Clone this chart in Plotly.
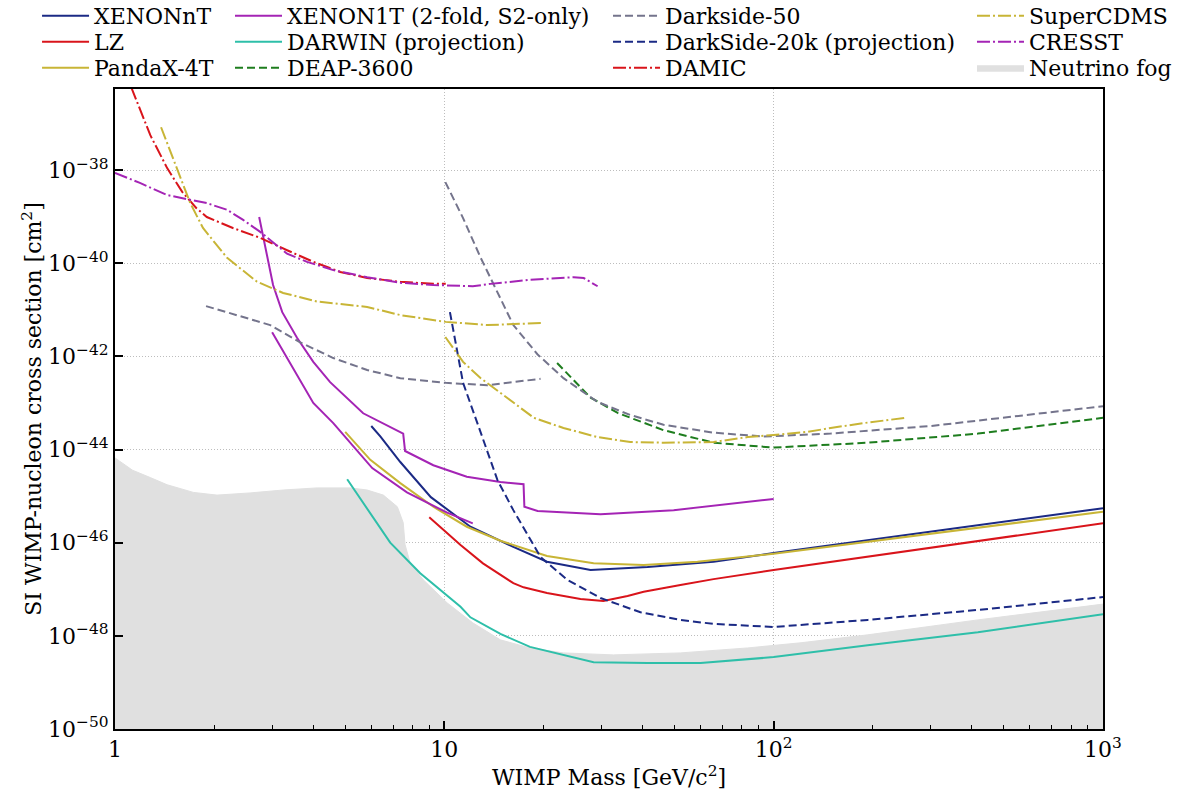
import plotly.graph_objects as go

# ---------------- data (WIMP mass in GeV/c^2, SI cross section in cm^2) ----------------
xenonnt_mass = [6.0, 6.4, 7.35, 9.1, 12.0, 16.2, 20.5, 27.8, 41.4, 65.7, 100, 1000]
xenonnt_xsec = [3.2e-44, 1.9e-44, 5.4e-45, 9.5e-46, 2.2e-46, 8.1e-47, 3.9e-47, 2.6e-47, 3.0e-47, 3.9e-47, 6.0e-47, 5.5e-46]

lz_mass = [9.0, 11.2, 13.1, 16.2, 17.4, 20.5, 25.9, 30.4, 36.0, 40.3, 52.1, 65.7, 100, 1000]
lz_xsec = [3.5e-46, 8.9e-47, 3.6e-47, 1.35e-47, 1.1e-47, 8.3e-48, 6.2e-48, 5.6e-48, 7.2e-48, 8.8e-48, 1.23e-47, 1.65e-47, 2.6e-47, 2.6e-46]

pandax_mass = [5.0, 5.96, 7.35, 9.26, 11.7, 14.8, 20.5, 28.4, 40.3, 58.7, 100, 1000]
pandax_xsec = [2.4e-44, 6.0e-45, 1.9e-45, 5.9e-46, 2.2e-46, 1.1e-46, 5.2e-47, 3.6e-47, 3.3e-47, 3.9e-47, 5.8e-47, 4.6e-46]

xenon1t_mass = [2.74, 3.02, 3.22, 3.57, 4.0, 4.5, 5.67, 7.5, 7.6, 9.26, 11.7, 14.8, 17.4, 17.5, 19.2, 29.8, 49.7, 100,
                None, 3.0, 3.65, 4.0, 4.6, 6.04, 7.7, 10.2, 12.2]
xenon1t_xsec = [9.8e-40, 3.4e-41, 8.9e-42, 2.5e-42, 7.6e-43, 2.8e-43, 6.0e-44, 2.2e-44, 9.3e-45, 4.6e-45, 2.6e-45, 2.0e-45, 1.8e-45, 5.9e-46, 4.8e-46, 4.1e-46, 5.0e-46, 8.7e-46,
                None, 3.3e-42, 3.1e-43, 1.0e-43, 3.7e-44, 4.0e-45, 1.2e-45, 4.4e-46, 2.6e-46]

darwin_mass = [5.07, 6.85, 8.45, 11.2, 12.0, 14.8, 18.2, 28.4, 41.4, 60.0, 100, 193, 417, 1000]
darwin_xsec = [2.3e-45, 1.0e-46, 2.2e-47, 4.2e-48, 2.5e-48, 1.1e-48, 5.8e-49, 2.7e-49, 2.6e-49, 2.6e-49, 3.5e-49, 6.3e-49, 1.2e-48, 2.9e-48]

deap_mass = [22.0, 27.8, 33.6, 46.3, 65.7, 100, 193, 417, 1000]
deap_xsec = [7.2e-43, 1.3e-43, 6.1e-44, 2.6e-44, 1.4e-44, 1.1e-44, 1.4e-44, 2.2e-44, 4.8e-44]

ds50_mass = [1.89, 2.96, 3.65, 4.6, 5.83, 7.35, 10.1, 13.5, 19.6,
             None, 10.07, 11.4, 12.9, 14.5, 16.2, 19.2, 23.0, 29.2, 36.7, 46.3, 65.7, 93.3, 149, 300, 1000]
ds50_xsec = [1.2e-41, 4.7e-42, 2.0e-42, 9.2e-43, 5.1e-43, 3.4e-43, 2.7e-43, 2.4e-43, 3.3e-43,
             None, 5.5e-39, 9.3e-40, 1.3e-40, 2.4e-41, 4.7e-42, 1.1e-42, 3.4e-43, 1.05e-43, 5.5e-44, 3.4e-44, 2.3e-44, 1.9e-44, 2.2e-44, 3.2e-44, 8.5e-44]

ds20k_mass = [10.4, 11.4, 12.9, 14.5, 16.2, 19.6, 23.6, 29.8, 39.4, 52.1, 65.7, 100, 193, 417, 1000]
ds20k_xsec = [8.9e-42, 2.7e-43, 2.3e-44, 2.2e-45, 5.0e-46, 4.9e-47, 1.6e-47, 6.5e-48, 3.2e-48, 2.2e-48, 1.8e-48, 1.55e-48, 2.2e-48, 3.6e-48, 6.8e-48]

damic_mass = [1.12, 1.28, 1.44, 1.60, 1.77, 1.90, 2.28, 2.76, 3.33, 4.0, 4.83, 5.83, 7.35, 9.26, 10.1]
damic_xsec = [6e-37, 5.6e-38, 1.1e-38, 3.4e-39, 1.5e-39, 9.8e-40, 5.7e-40, 3.5e-40, 1.9e-40, 1.07e-40, 6.5e-41, 4.8e-41, 4.0e-41, 3.6e-41, 3.6e-41]

cresst_mass = [1.0, 1.19, 1.44, 1.67, 1.90, 2.19, 2.45, 2.76, 3.02, 3.33, 3.83, 4.6, 5.83, 7.35, 9.26, 12.2, 13.8, 18.2, 24.7, 26.5, 29.2]
cresst_xsec = [8.7e-39, 5.3e-39, 2.9e-39, 2.3e-39, 1.95e-39, 1.4e-39, 8.5e-40, 4.7e-40, 2.8e-40, 1.6e-40, 1.07e-40, 7.1e-41, 5.0e-41, 3.8e-41, 3.4e-41, 3.2e-41, 3.6e-41, 4.4e-41, 5.0e-41, 4.8e-41, 3.2e-41]

supercdms_mass = [1.38, 1.54, 1.69, 1.85, 2.19, 2.70, 3.24, 4.11, 5.29, 5.83, 7.35, 10.1, 13.5, 19.9,
                  None, 10.07, 11.4, 12.9, 15.5, 18.7, 23.0, 29.2, 36.7, 46.3, 65.7, 83.4, 100, 127, 149, 188, 252]
supercdms_xsec = [8.3e-38, 1.1e-38, 2.0e-39, 5.7e-40, 1.3e-40, 4.0e-41, 2.3e-41, 1.5e-41, 1.26e-41, 1.15e-41, 7.7e-42, 5.5e-42, 4.7e-42, 5.2e-42,
                  None, 2.6e-42, 7.6e-43, 3.4e-43, 1.3e-43, 4.8e-44, 2.9e-44, 1.85e-44, 1.45e-44, 1.4e-44, 1.45e-44, 1.85e-44, 2.05e-44, 2.4e-44, 2.9e-44, 3.7e-44, 4.8e-44]

fog_mass = [1.0, 1.13, 1.28, 1.44, 1.73, 2.04, 2.57, 3.24, 4.11, 5.18, 5.83, 6.53, 7.2, 7.5, 7.6, 7.88, 8.63,
            10.2, 12.2, 14.8, 18.2, 23.0, 32.6, 52.1, 83.4, 121, 193, 417, 1000]
fog_xsec = [6.6e-45, 3.6e-45, 2.5e-45, 1.75e-45, 1.2e-45, 1.05e-45, 1.17e-45, 1.35e-45, 1.5e-45, 1.5e-45, 1.35e-45, 1.05e-45, 5.9e-46, 2.7e-46, 9e-47, 3.6e-47, 1.6e-47,
            5.1e-48, 1.9e-48, 8.2e-49, 5.5e-49, 4.3e-49, 3.9e-49, 4.3e-49, 5.5e-49, 7.1e-49, 1.05e-48, 2.2e-48, 4.8e-48]
fog_floor = 1e-51

x_ticks = [1, 10, 100, 1000]
x_ticktext = ["1", "10", "10<sup>2</sup>", "10<sup>3</sup>"]
y_ticks = [1e-50, 1e-48, 1e-46, 1e-44, 1e-42, 1e-40, 1e-38]
y_ticktext = ["10<sup>\u221250</sup>", "10<sup>\u221248</sup>", "10<sup>\u221246</sup>", "10<sup>\u221244</sup>",
              "10<sup>\u221242</sup>", "10<sup>\u221240</sup>", "10<sup>\u221238</sup>"]

# ---------------- styles ----------------
NAVY = "#1b2a85"
RED = "#d9141b"
OLIVE = "#c8b536"
PURPLE = "#a424b5"
TEAL = "#2ebfa9"
GREEN = "#1e7d1e"
GREY = "#74748c"
FOG = "#e0e0e0"
DASH = "8px,4px"
DASHDOT = "13px,3px,2px,3px"
FONT = "DejaVu Serif"
FS = 22

# legend grid: columns (paper x) and rows (paper y)
COL_X = [-0.0789, 0.1164, 0.4990, 0.8674]
ROW_Y = [1.1141, 1.0734, 1.0328]

fig = go.Figure()

# neutrino fog (drawn first so every limit lies above it)
fig.add_trace(go.Scatter(
    x=fog_mass + [fog_mass[-1], fog_mass[0]],
    y=fog_xsec + [fog_floor, fog_floor],
    fill="toself", fillcolor=FOG, mode="lines",
    line=dict(color=FOG, width=1), name="Neutrino fog",
    legend="legend12"))

series = [
    ("XENONnT", xenonnt_mass, xenonnt_xsec, NAVY, "solid", 0, 0),
    ("LZ", lz_mass, lz_xsec, RED, "solid", 0, 1),
    ("PandaX-4T", pandax_mass, pandax_xsec, OLIVE, "solid", 0, 2),
    ("XENON1T (2-fold, S2-only)", xenon1t_mass, xenon1t_xsec, PURPLE, "solid", 1, 0),
    ("DARWIN (projection)", darwin_mass, darwin_xsec, TEAL, "solid", 1, 1),
    ("DEAP-3600", deap_mass, deap_xsec, GREEN, DASH, 1, 2),
    ("Darkside-50", ds50_mass, ds50_xsec, GREY, DASH, 2, 0),
    ("DarkSide-20k (projection)", ds20k_mass, ds20k_xsec, NAVY, DASH, 2, 1),
    ("DAMIC", damic_mass, damic_xsec, RED, DASHDOT, 2, 2),
    ("SuperCDMS", supercdms_mass, supercdms_xsec, OLIVE, DASHDOT, 3, 0),
    ("CRESST", cresst_mass, cresst_xsec, PURPLE, DASHDOT, 3, 1),
]

leg_common = dict(orientation="v", yanchor="middle", xanchor="left",
                  font=dict(family=FONT, size=FS, color="black"),
                  bgcolor="rgba(0,0,0,0)", borderwidth=0, itemwidth=47)
legends = {}
for i, (name, xs, ys, col, dash, c, r) in enumerate(series):
    key = "legend" if i == 0 else f"legend{i + 1}"
    fig.add_trace(go.Scatter(x=xs, y=ys, mode="lines", name=name,
                             line=dict(color=col, width=2, dash=dash),
                             legend=key, connectgaps=False))
    legends[key] = dict(**leg_common, x=COL_X[c], y=ROW_Y[r])
legends["legend12"] = dict(**leg_common, x=COL_X[3], y=ROW_Y[2])

minor_x = [m * 10 ** k for k in range(3) for m in range(2, 10)]

axis_common = dict(
    type="log", showline=True, linecolor="black", linewidth=2, mirror=True,
    ticks="inside", ticklen=8, tickwidth=1.5, tickcolor="black",
    showgrid=True, gridcolor="#bdbdbd", griddash="1px,2px", gridwidth=1,
    tickfont=dict(family=FONT, size=FS, color="black"),
    zeroline=False,
)

fig.update_xaxes(**axis_common, range=[0, 3], tickmode="array", tickvals=x_ticks, ticktext=x_ticktext,
                 minor=dict(tickmode="array", tickvals=minor_x, ticks="inside", ticklen=4,
                            tickcolor="black", tickwidth=1, showgrid=False),
                 title=dict(text="WIMP Mass [GeV/c<sup>2</sup>]", font=dict(family=FONT, size=FS, color="black"),
                            standoff=8))
fig.update_yaxes(**axis_common, range=[-50, -36.26], tickmode="array", tickvals=y_ticks, ticktext=y_ticktext,
                 title=dict(text="SI WIMP-nucleon cross section [cm<sup>2</sup>]",
                            font=dict(family=FONT, size=FS, color="black"), standoff=0))

fig.update_layout(
    width=1179, height=797,
    margin=dict(l=115, r=76, t=89, b=68, autoexpand=False),
    paper_bgcolor="white", plot_bgcolor="white",
    font=dict(family=FONT, size=FS, color="black"),
    showlegend=True,
    **legends,
)

fig.write_html("out.html", config={"displayModeBar": False},
               post_script="document.body.style.margin='0';")
